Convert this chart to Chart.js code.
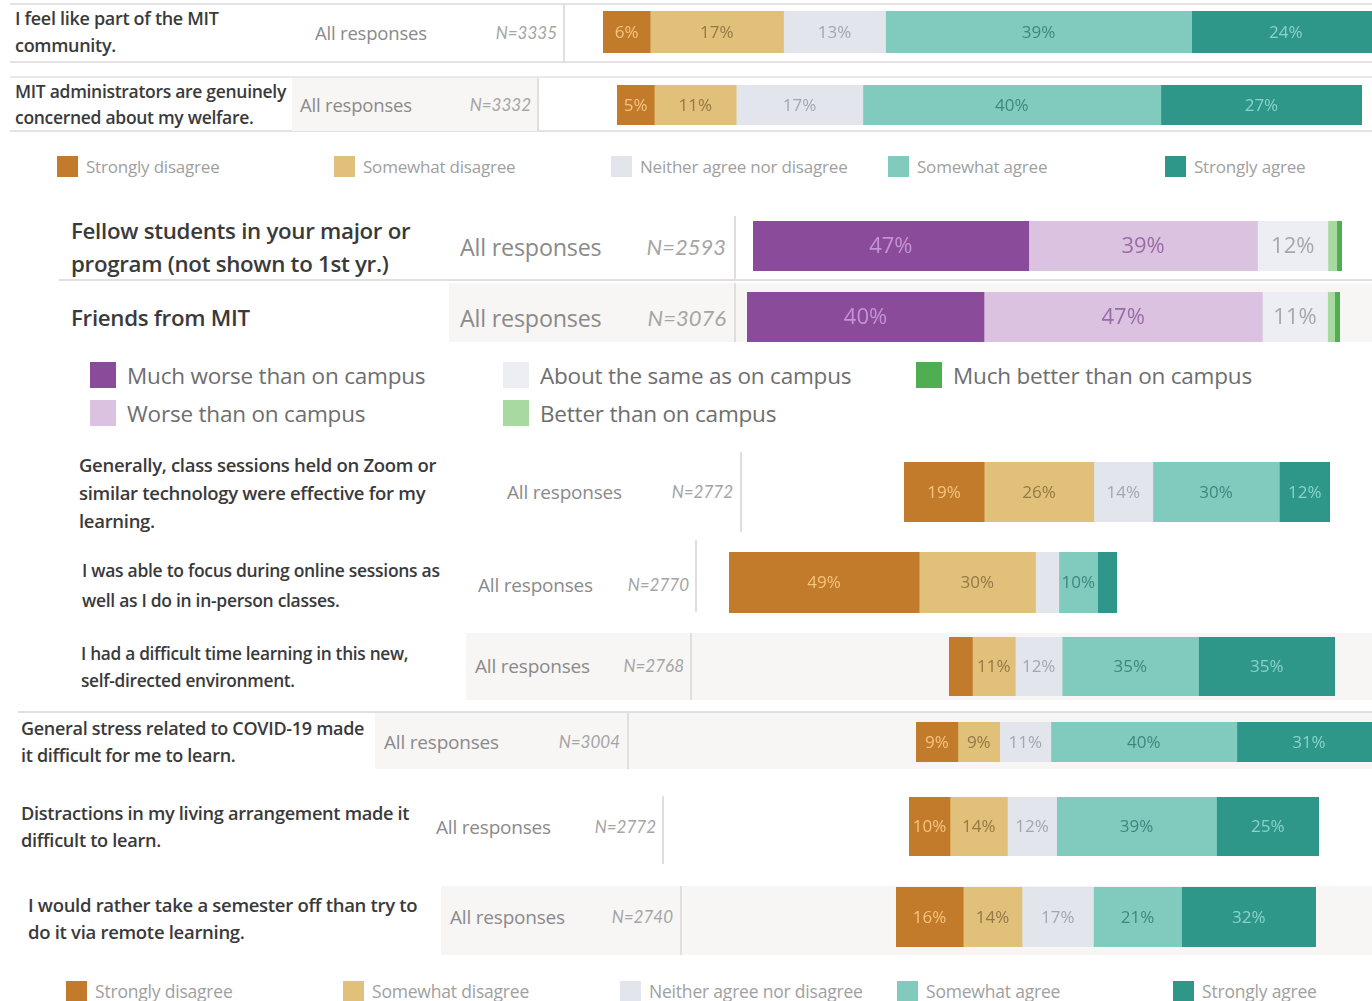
<!DOCTYPE html>
<html>
<head>
<meta charset="utf-8">
<script src="https://cdn.jsdelivr.net/npm/chart.js@4.4.1/dist/chart.umd.min.js"></script>
<style>
  html, body { margin: 0; padding: 0; background: #fff; }
  body { width: 1372px; height: 1001px; position: relative; overflow: hidden; font-family: "Open Sans", Lato, sans-serif; }
  .t { position: absolute; white-space: nowrap; transform: translateY(-50%); }
  .r { transform: translate(-100%, -50%); }
  .box { position: absolute; }
  canvas { position: absolute; }
</style>
</head>
<body>
<script>
// categories
const likertCategories = ['Strongly disagree', 'Somewhat disagree', 'Neither agree nor disagree', 'Somewhat agree', 'Strongly agree'];
const campusCategories = ['Much worse than on campus', 'Worse than on campus', 'About the same as on campus', 'Better than on campus', 'Much better than on campus'];

// section 1 - belonging
const communityQuestions = [['I feel like part of the MIT', 'community.'], ['MIT administrators are genuinely', 'concerned about my welfare.']];
const communityN = [3335, 3332];
const communityValues = [[6, 17, 13, 39, 24], [5, 11, 17, 40, 27]];

// section 2 - connection compared with campus
const connectionQuestions = [['Fellow students in your major or', 'program (not shown to 1st yr.)'], ['Friends from MIT']];
const connectionN = [2593, 3076];
const connectionValues = [[47, 39, 12, 1.5, 0.9], [40, 47, 11, 1.2, 0.9]];

// section 3 - remote learning
const learningQuestions = [
  ['Generally, class sessions held on Zoom or', 'similar technology were effective for my', 'learning.'],
  ['I was able to focus during online sessions as', 'well as I do in in-person classes.'],
  ['I had a difficult time learning in this new,', 'self-directed environment.'],
  ['General stress related to COVID-19 made', 'it difficult for me to learn.'],
  ['Distractions in my living arrangement made it', 'difficult to learn.'],
  ['I would rather take a semester off than try to', 'do it via remote learning.']
];
const learningN = [2772, 2770, 2768, 3004, 2772, 2740];
const learningValues = [[19, 26, 14, 30, 12], [49, 30, 6, 10, 5], [6, 11, 12, 35, 35], [9, 9, 11, 40, 31], [10, 14, 12, 39, 25], [16, 14, 17, 21, 32]];

// colours
const likertColors = ['#c27b2b', '#e1c07a', '#e2e6ec', '#80cbbe', '#2f968a'];
const likertText = ['#f7c47e', '#957845', '#a2a7ae', '#3d887e', '#88d4ca'];
const campusColors = ['#8a4c9a', '#dcc2e1', '#eceef3', '#a8d9a1', '#4fae4f'];
const campusText = ['#c493d3', '#9a6ca6', '#a6a6ae', '#6a9', '#fff'];

// layout of each row (positions only)
const rowLayout = [
  { bar: [603, 11, 42, 7.85], q: [15, [18, 45], 18], ar: [315, 32, 18.5], n: [557, 32, 17], div: [563, 4, 62], lab: 17 },
  { bar: [617, 85, 40, 7.45], q: [15, [91, 117], 17.5], ar: [300, 104, 18.5], n: [531, 104, 17], div: [537, 78, 131], bg: [292, 78, 245, 53], lab: 17 },
  { bar: [753, 221, 50, 5.87], q: [71, [230, 263], 22.3], ar: [460, 247, 23.3], n: [726, 246, 22], div: [734, 216, 280], lab: 22 },
  { bar: [747, 292, 50, 5.92], q: [71, [317], 22.3], ar: [460, 318, 23.3], n: [726, 317, 22], div: [734, 283, 342], bg: [449, 283, 923, 59], lab: 22 },
  { bar: [904, 462, 60, 4.22], q: [79, [464, 492, 520], 18.5], ar: [507, 492, 19], n: [733, 491, 17], div: [740, 452, 532], lab: 17 },
  { bar: [729, 552, 61, 3.88], q: [82, [570, 600], 17.5], ar: [478, 585, 19], n: [689, 584, 17], div: [695, 540, 612], lab: 17 },
  { bar: [949, 637, 59, 3.9], q: [81, [653, 680], 17.3], ar: [475, 666, 19], n: [684, 665, 17], div: [690, 633, 700], bg: [466, 633, 906, 67], lab: 17 },
  { bar: [916, 722, 40, 4.65], q: [21, [728, 755], 18], ar: [384, 742, 19], n: [620, 741, 17], div: [627, 713, 769], bg: [375, 713, 997, 56], lab: 17 },
  { bar: [909, 797, 59, 4.1], q: [21, [813, 840], 18.2], ar: [436, 827, 19], n: [656, 826, 17], div: [662, 796, 864], lab: 17 },
  { bar: [896, 887, 60, 4.2], q: [28, [904, 931], 18.5], ar: [450, 917, 19], n: [673, 916, 17], div: [680, 886, 955], bg: [441, 886, 931, 69], lab: 17 }
];

function box(x, y, w, h, color) {
  const d = document.createElement('div');
  d.className = 'box';
  d.style.cssText = `left:${x}px;top:${y}px;width:${w}px;height:${h}px;background:${color}`;
  document.body.appendChild(d);
  return d;
}

function text(str, x, y, css, right) {
  const d = document.createElement('div');
  d.className = right ? 't r' : 't';
  d.textContent = str;
  d.style.cssText = `left:${x}px;top:${y}px;${css}`;
  document.body.appendChild(d);
  return d;
}

// draws percentage inside each segment when there is room
const segmentLabels = {
  id: 'segmentLabels',
  afterDatasetsDraw(chart, args, opts) {
    const ctx = chart.ctx;
    ctx.save();
    ctx.font = `${opts.size}px "Open Sans", sans-serif`;
    ctx.textAlign = 'center';
    ctx.textBaseline = 'middle';
    chart.data.datasets.forEach((ds, i) => {
      const el = chart.getDatasetMeta(i).data[0];
      const w = Math.abs(el.x - el.base);
      if (w < 30) return;
      ctx.fillStyle = opts.colors[i];
      ctx.fillText(Math.round(ds.data[0]) + '%', (el.x + el.base) / 2, el.y + 1);
    });
    ctx.restore();
  }
};

function drawRow(layout, question, n, values, categories, colors, textColors) {
  if (layout.bg) box(layout.bg[0], layout.bg[1], layout.bg[2], layout.bg[3], '#f8f5f5');
  box(layout.div[0], layout.div[1], 2, layout.div[2] - layout.div[1], '#e2dede');

  const [qx, qys, qs] = layout.q;
  question.forEach((line, i) => {
    text(line, qx, qys[i], `font-size:${qs}px;font-weight:600;color:#3a3a3a;letter-spacing:-0.3px`);
  });
  text('All responses', layout.ar[0], layout.ar[1], `font-size:${layout.ar[2]}px;color:#8a8a8a;letter-spacing:-0.2px`);
  text('N=' + n, layout.n[0], layout.n[1], `font-family:Lato,sans-serif;font-size:${layout.n[2]}px;font-style:italic;color:#a5a5a5`, true);

  const [bx, by, bh, pxPer] = layout.bar;
  const total = values.reduce((a, b) => a + b, 0);
  const canvas = document.createElement('canvas');
  canvas.width = Math.round(total * pxPer);
  canvas.height = bh;
  canvas.style.left = bx + 'px';
  canvas.style.top = by + 'px';
  document.body.appendChild(canvas);

  new Chart(canvas.getContext('2d'), {
    type: 'bar',
    data: {
      labels: [''],
      datasets: categories.map((c, i) => ({
        label: c,
        data: [values[i]],
        backgroundColor: colors[i],
        borderWidth: 0,
        barPercentage: 1,
        categoryPercentage: 1
      }))
    },
    options: {
      indexAxis: 'y',
      responsive: false,
      animation: false,
      layout: { padding: 0 },
      scales: {
        x: { stacked: true, display: false, min: 0, max: total },
        y: { stacked: true, display: false }
      },
      plugins: {
        legend: { display: false },
        tooltip: { enabled: false },
        segmentLabels: { colors: textColors, size: layout.lab }
      }
    },
    plugins: [segmentLabels]
  });
}

function legend(items, colors, positions, size, sq, gap, color) {
  items.forEach((label, i) => {
    const [x, y] = positions[i];
    box(x, y - sq / 2, sq, sq, colors[i]);
    text(label, x + sq + gap, y, `font-size:${size}px;color:${color};letter-spacing:-0.2px`);
  });
}

// separator lines
box(10, 3, 1362, 2, '#e6e2e2');
box(10, 61, 1362, 2, '#e6e2e2');
box(10, 76, 1362, 2, '#ebe8e8');
box(10, 130, 1362, 2, '#e6e2e2');
box(59, 279, 1313, 2, '#e2dede');
box(18, 711, 1354, 2, '#e2dede');

communityValues.forEach((v, i) => drawRow(rowLayout[i], communityQuestions[i], communityN[i], v, likertCategories, likertColors, likertText));
connectionValues.forEach((v, i) => drawRow(rowLayout[2 + i], connectionQuestions[i], connectionN[i], v, campusCategories, campusColors, campusText));
learningValues.forEach((v, i) => drawRow(rowLayout[4 + i], learningQuestions[i], learningN[i], v, likertCategories, likertColors, likertText));

legend(likertCategories, likertColors, [[57, 166], [334, 166], [611, 166], [888, 166], [1165, 166]], 17, 21, 8, '#a0a0a0');
legend(campusCategories, campusColors, [[90, 375], [90, 413], [503, 375], [503, 413], [916, 375]], 22.5, 26, 11, '#6e6e6e');
legend(likertCategories, likertColors, [[66, 991], [343, 991], [620, 991], [897, 991], [1173, 991]], 17.5, 21, 8, '#a0a0a0');
</script>
</body>
</html>
